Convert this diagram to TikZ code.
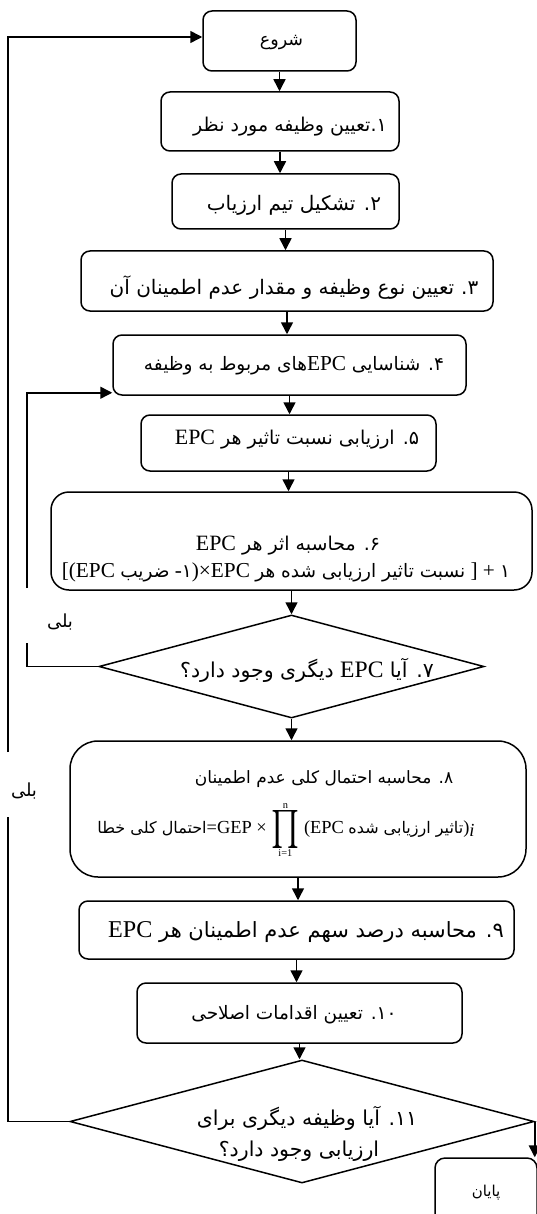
\documentclass[tikz,border=0pt]{standalone}
\usepackage{fontspec}
\usepackage{graphicx}
\usetikzlibrary{arrows.meta,shapes.geometric}
\TeXXeTstate=1
\newfontfamily\fa[Script=Arabic]{DejaVu Sans}
\newfontfamily\en[Scale=1.15]{Liberation Serif}
\newcommand\ltr[1]{\beginL{\en #1}\endL}
\tikzset{
  box/.style={draw, line width=1.5pt, rounded corners=9pt, inner sep=0pt},
  dia/.style={draw, line width=1.5pt, diamond, inner sep=0pt},
  txt/.style={inner sep=0pt, font=\fa\fontsize{#1}{#1}\selectfont},
  arr/.style={line width=1.5pt, -{Triangle[length=12pt,width=12pt]}},
}
\begin{document}
\begin{tikzpicture}[x=1pt,y=-1pt]
\useasboundingbox (0,0) rectangle (536,1214);
% boxes
\node[box, minimum width=153pt, minimum height=60pt] (start) at (279.5,41) {};
\node[box, minimum width=238pt, minimum height=59pt] (b1) at (280,121.5) {};
\node[box, minimum width=227pt, minimum height=55pt] (b2) at (285.5,201.5) {};
\node[box, minimum width=412pt, minimum height=60pt] (b3) at (287,281) {};
\node[box, minimum width=353pt, minimum height=60pt] (b4) at (289.5,365) {};
\node[box, minimum width=295pt, minimum height=56pt] (b5) at (288.5,443) {};
\node[box, rounded corners=18pt, minimum width=481pt, minimum height=98pt] (b6) at (291.5,541) {};
\node[dia, minimum width=385pt, minimum height=103pt] (d7) at (291.5,666.5) {};
\node[box, rounded corners=28pt, minimum width=456pt, minimum height=136pt] (b8) at (298,809) {};
\node[box, minimum width=435pt, minimum height=58pt] (b9) at (296.5,930) {};
\node[box, minimum width=325pt, minimum height=60pt] (b10) at (299.5,1013) {};
\node[dia, minimum width=464pt, minimum height=123pt] (d11) at (302,1121.5) {};
\node[box, rounded corners=10pt, minimum width=102pt, minimum height=68pt] (endb) at (486,1192) {};
% texts
\node[txt=17.5pt] (t0) at (281.5,43) {\beginR شروع\endR};
\node[txt=19pt] (t1) at (290,127) {\beginR ۱\kern0pt.\kern0pt تعیین وظیفه مورد نظر\endR};
\node[txt=20pt] (t2) at (294,205) {\beginR ۲\kern0pt. تشکیل تیم ارزیاب\endR};
\node[txt=20pt] (t3) at (294,288) {\beginR ۳\kern0pt.\hspace{7pt}تعیین نوع وظیفه و مقدار عدم اطمینان آن\endR};
\node[txt=18.5pt] (t4) at (294,366) {\beginR ۴\kern0pt. شناسایی \ltr{EPC}های مربوط به وظیفه\endR};
\node[txt=19pt] (t5) at (297,440) {\beginR ۵\kern0pt. ارزیابی نسبت تاثیر هر \ltr{EPC}\endR};
\node[txt=19pt] (t6a) at (288,546) {\beginR ۶\kern0pt. محاسبه اثر هر \ltr{EPC}\endR};
\node[txt=18.5pt] (t6b) at (286,572) {{\en[(EPC }\beginR ضریب\endR{\en\ -}۱{\en)×EPC }\beginR نسبت تاثیر ارزیابی شده هر\endR{\en\ ] + }۱};
\node[txt=20.5pt] (t7) at (307,670) {\beginR ۷\kern0pt. آیا \ltr{EPC} دیگری وجود دارد؟\endR};
\node[txt=17pt] (t8a) at (324,779) {\beginR ۸\kern0pt. محاسبه احتمال کلی عدم اطمینان\endR};
\node[txt=16pt] (t8b) at (286,830) {\beginR احتمال کلی خطا\endR{\en=GEP × }$\displaystyle\mathop{\vcenter{\hbox{\resizebox*{28pt}{38pt}{$\prod$}}}}\limits^{\hbox{\en\fontsize{9}{9}\selectfont n}}_{\hbox{\en\fontsize{9}{9}\selectfont i=1}}${\en\ (EPC }\beginR تاثیر ارزیابی شده\endR{\en)}{\en\itshape\raisebox{-3pt}{i}}};
\node[txt=21pt] (t9) at (306,932) {\beginR ۹\kern0pt. محاسبه درصد سهم عدم اطمینان هر \ltr{EPC}\endR};
\node[txt=18.5pt] (t10) at (294,1015) {\beginR ۱۰\kern0pt. تعیین اقدامات اصلاحی\endR};
\node[txt=20.5pt] (t11a) at (307,1118) {\beginR ۱۱\kern0pt. آیا وظیفه دیگری برای\endR};
\node[txt=20.5pt] (t11b) at (299,1151) {\beginR ارزیابی وجود دارد؟\endR};
\node[txt=15pt] (tend) at (486,1193) {\beginR پایان\endR};
\node[txt=18pt] (y1) at (60,622) {\beginR بلی\endR};
\node[txt=18pt] (y2) at (24,791) {\beginR بلی\endR};
% main flow
\draw[arr] (start.south) -- (start.south |- b1.north);
\draw[arr] (b1.south) -- (b1.south |- b2.north);
\draw[arr] (b2.south) -- (b2.south |- b3.north);
\draw[arr] (b3.south) -- (b3.south |- b4.north);
\draw[arr] (b4.south) -- (b4.south |- b5.north);
\draw[arr] (b5.south) -- (b5.south |- b6.north);
\draw[arr] (b6.south) -- (b6.south |- d7.north);
\draw[arr] (d7.south) -- (d7.south |- b8.north);
\draw[arr] (b8.south) -- (b8.south |- b9.north);
\draw[arr] (b9.south) -- (b9.south |- b10.north);
\draw[arr] (b10.south) -- (b10.south |- d11.north);
\draw[arr] (d11.east) -- (d11.east |- endb.north);
% loops
\coordinate (iB) at (27,643);
\coordinate (iC) at (27,588);
\coordinate (oB) at (8,817);
\coordinate (oC) at (8,752);
\draw[arr] (d7.west) -| (iB) (iC) |- ([yshift=3pt]b4.south west);
\draw[arr] (d11.west) -| (oB) (oC) |- ([yshift=4pt]start.west);
\end{tikzpicture}
\end{document}
